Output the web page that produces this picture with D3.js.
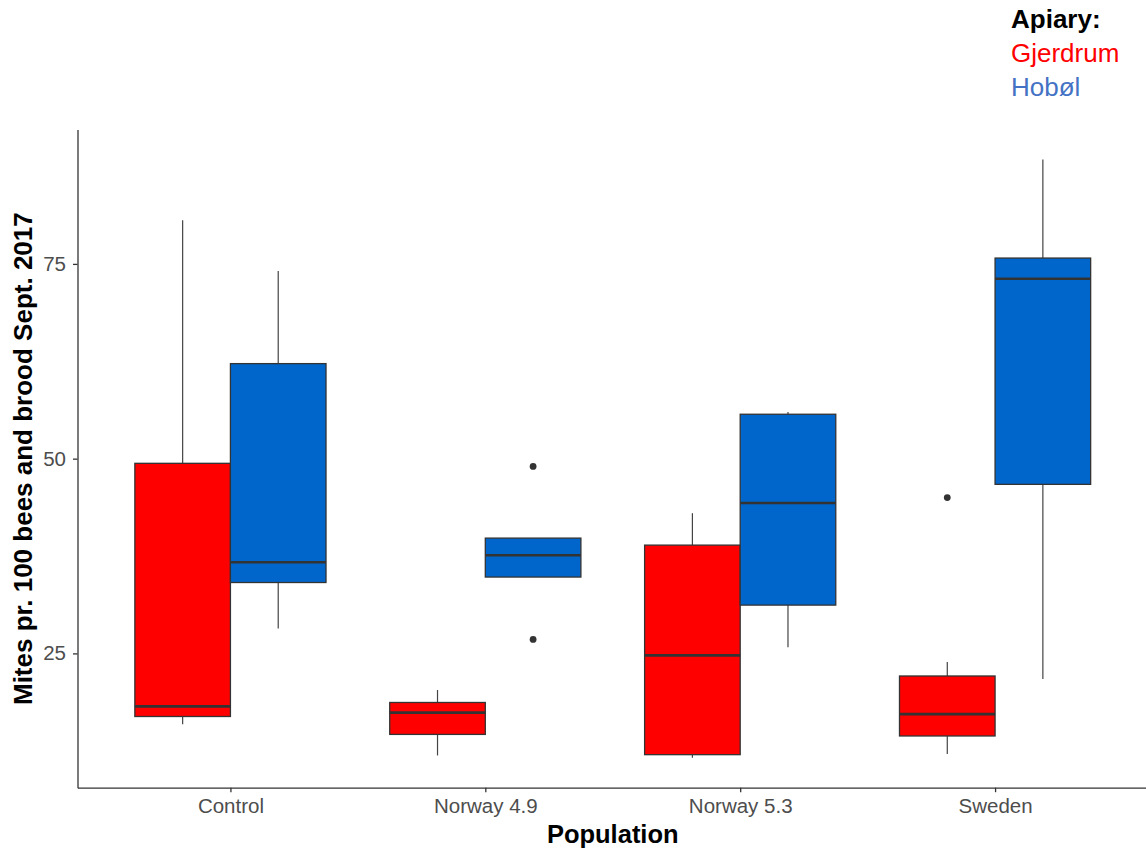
<!DOCTYPE html>
<html>
<meta charset="UTF-8" />
<script src="https://cdn.jsdelivr.net/npm/d3@7"></script>
<style>
*{margin:0; padding:0;}
body{background-color:#ffffff;}
text{font-family:"Liberation Sans", Arial, sans-serif;}
</style>
<body>
<div id="svgcontainer"></div>
<script>
// populations on the x axis
var populations = ["Control", "Norway 4.9", "Norway 5.3", "Sweden"];
var apiaries = ["Gjerdrum", "Hobøl"];
var boxColors = ["#ff0000", "#0066cc"];
var legendColors = ["#ff0000", "#4472c4"];
var yTicks = [25, 50, 75];

// box stats: [lower whisker, q1, median, q3, upper whisker]
var gjerdrumStats = [
	[15.9, 16.9, 18.2, 49.4, 80.6],
	[11.9, 14.6, 17.4, 18.7, 20.3],
	[11.6, 12.0, 24.75, 38.9, 43.0],
	[12.1, 14.4, 17.2, 22.1, 23.9]
];
var hobolStats = [
	[28.2, 34.1, 36.7, 62.2, 74.1],
	[34.8, 34.8, 37.6, 39.8, 39.8],
	[25.8, 31.2, 44.3, 55.7, 56.0],
	[21.7, 46.7, 73.1, 75.75, 88.4]
];
var gjerdrumOutliers = [[], [], [], [45.0]];
var hobolOutliers = [[], [49.0, 26.8], [], []];

var width = 1146;
var height = 852;
// panel edges (not "top": that name belongs to window)
var pLeft = 77.5, pRight = 1148, pTop = 129.6, pBottom = 787.7;

var svg = d3.select("#svgcontainer")
.append("svg")
.attr("width", width)
.attr("height", height);

// ggplot style: 5% expansion on y, 0.6 on discrete x
var allVals = [];
gjerdrumStats.concat(hobolStats).forEach(function(s){ allVals = allVals.concat(s); });
gjerdrumOutliers.concat(hobolOutliers).forEach(function(o){ allVals = allVals.concat(o); });
var lo = d3.min(allVals), hi = d3.max(allVals);
var pad = (hi - lo) * 0.05;

var y = d3.scaleLinear().domain([lo - pad, hi + pad]).range([pBottom, pTop]);
var x = d3.scalePoint().domain(populations).range([pLeft, pRight]).padding(0.6);
var step = x.step();
var boxW = step * 0.375;
var dodge = d3.scaleBand().domain(apiaries).range([-boxW, boxW]);

var series = [
	{name: "Gjerdrum", stats: gjerdrumStats, outliers: gjerdrumOutliers, color: boxColors[0]},
	{name: "Hobøl", stats: hobolStats, outliers: hobolOutliers, color: boxColors[1]}
];

var plot = svg.append("g");

series.forEach(function(s){
	populations.forEach(function(p, i){
		var st = s.stats[i];
		var x0 = x(p) + dodge(s.name);
		var cx = x0 + boxW / 2;

		// whiskers
		plot.append("line")
		.attr("x1", cx).attr("x2", cx)
		.attr("y1", y(st[0])).attr("y2", y(st[1]))
		.style("stroke", "#444444").style("stroke-width", 1.2);
		plot.append("line")
		.attr("x1", cx).attr("x2", cx)
		.attr("y1", y(st[3])).attr("y2", y(st[4]))
		.style("stroke", "#444444").style("stroke-width", 1.2);

		// box
		plot.append("rect")
		.attr("x", x0)
		.attr("y", y(st[3]))
		.attr("width", boxW)
		.attr("height", y(st[1]) - y(st[3]))
		.attr("fill", s.color)
		.style("stroke", "#333333").style("stroke-width", 1.3);

		// median
		plot.append("line")
		.attr("x1", x0).attr("x2", x0 + boxW)
		.attr("y1", y(st[2])).attr("y2", y(st[2]))
		.style("stroke", "#333333").style("stroke-width", 2.6);

		s.outliers[i].forEach(function(v){
			plot.append("circle")
			.attr("cx", cx)
			.attr("cy", y(v))
			.attr("r", 3.4)
			.attr("fill", "#333333");
		});
	});
});

// axes
var xAxis = svg.append("g")
.attr("transform", "translate(0," + pBottom + ")")
.call(d3.axisBottom(x).tickSize(4.5).tickPadding(6).tickSizeOuter(0));
var yAxis = svg.append("g")
.attr("transform", "translate(" + pLeft + ",0)")
.call(d3.axisLeft(y).tickValues(yTicks).tickSize(4.5).tickPadding(7).tickSizeOuter(0));

[xAxis, yAxis].forEach(function(a){
	a.select(".domain").style("stroke", "#333333").style("stroke-width", 1.3);
	a.selectAll(".tick line").style("stroke", "#333333").style("stroke-width", 1.3);
	a.selectAll(".tick text")
	.style("font-family", "'Liberation Sans', Arial, sans-serif")
	.style("font-size", "20.5px")
	.style("fill", "#4d4d4d");
});

// axis titles
svg.append("text")
.attr("x", (pLeft + pRight) / 2)
.attr("y", 843)
.attr("text-anchor", "middle")
.style("font-size", "25.5px")
.style("font-weight", "bold")
.text("Population");

svg.append("text")
.attr("transform", "translate(32," + ((pTop + pBottom) / 2) + ") rotate(-90)")
.attr("text-anchor", "middle")
.style("font-size", "26px")
.style("font-weight", "bold")
.text("Mites pr. 100 bees and brood Sept. 2017");

// legend as text in the top right corner
svg.append("text")
.attr("x", 1011).attr("y", 28)
.style("font-size", "26px")
.style("font-weight", "bold")
.attr("fill", "#000000")
.text("Apiary:");
apiaries.forEach(function(a, i){
	svg.append("text")
	.attr("x", 1011).attr("y", 62 + i * 34)
	.style("font-size", "26px")
	.attr("fill", legendColors[i])
	.text(a);
});
</script>
</body>
</html>
